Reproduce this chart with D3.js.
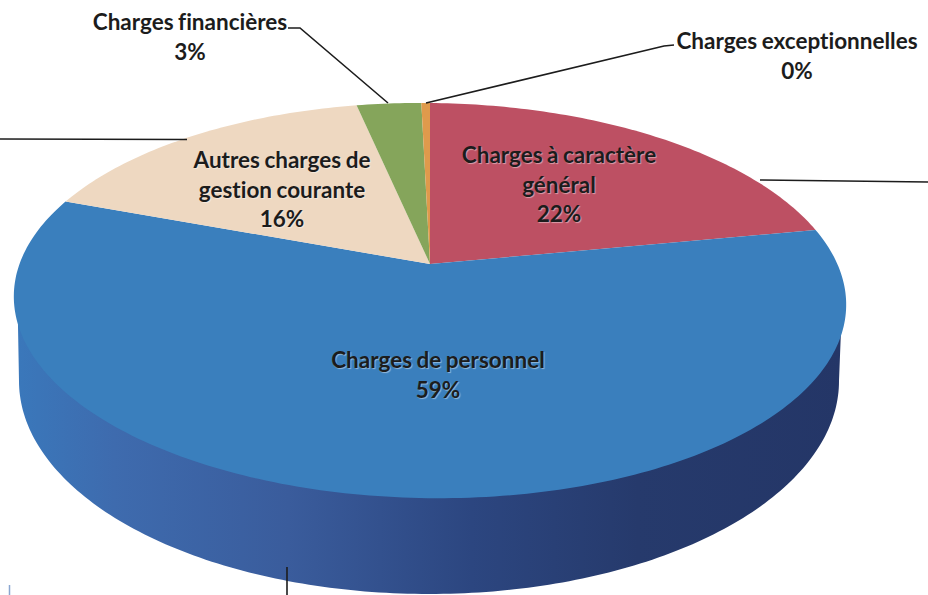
<!DOCTYPE html>
<html>
<head>
<meta charset="utf-8">
<script src="https://cdn.jsdelivr.net/npm/d3@7"></script>
<style>
    html, body { margin: 0; padding: 0; background: #fff; overflow: hidden; }
    text { font-family: Lato, "Open Sans", sans-serif; font-weight: 700; fill: #1c1c1c; font-variant-ligatures: none; word-spacing: -1px; }
    .inner { text-shadow: 1px 1px 1px rgba(255,255,255,0.45); }
</style>
</head>
<body>
<svg id="drawing_region"></svg>
<script>
// values
const categories = ['Charges à caractère général', 'Charges de personnel', 'Autres charges de gestion courante', 'Charges financières', 'Charges exceptionnelles'];
const values = [21.7, 58.6, 16.3, 3.0, 0.4];
const colors = ['#bd5063', '#3a7fbd', '#eed8c1', '#85a55b', '#df9a4c'];

const width = 928, height = 595;

// tilted disc: projection of the unit circle, so the apex sits above the ellipse centre
const top_disc = { cx: 430, cy: 264, a: 409, b: 142, k: -0.185, skew: 4 };
const bottom_ellipse = { cx: 429, cy: 381, rx: 410, ry: 213 };

const project = ( angle, r = 1 ) => {
    const u = r * Math.sin(angle), v = -r * Math.cos(angle);
    const w = 1 + top_disc.k * v;
    return [ top_disc.cx + top_disc.a * u / w, (top_disc.cy + top_disc.b * v + top_disc.skew * u) / w ];
};

const svg = d3.select('#drawing_region')
    .attr('width', width)
    .attr('height', height);

const grad = svg.append('defs').append('linearGradient')
    .attr('id', 'side')
    .attr('gradientUnits', 'userSpaceOnUse')
    .attr('x1', 15).attr('x2', 845).attr('y1', 0).attr('y2', 0);
[[0, '#3a78bb'], [0.12, '#3e6bae'], [0.33, '#3a5c9c'], [0.55, '#2c4680'], [0.75, '#263a6c'], [1, '#243667']]
    .forEach( s => grad.append('stop').attr('offset', s[0]).attr('stop-color', s[1]) );

const line = d3.line();

// side wall: right edge of the top disc, round the lower ellipse, back to the left edge
const wall = d3.range(0, 180.5, 1).map( deg => {
    const t = deg * Math.PI / 180;
    return [ bottom_ellipse.cx + bottom_ellipse.rx * Math.cos(t), bottom_ellipse.cy + bottom_ellipse.ry * Math.sin(t) ];
});
svg.append('path')
    .attr('d', line([ project(Math.PI * 0.52), ...wall, project(Math.PI * 1.48) ]))
    .attr('fill', 'url(#side)');

// top surface
const pie = d3.pie().value( d => d ).sort(null);
const slices = pie(values);

const slice_path = d => {
    const n = Math.max(2, Math.ceil((d.endAngle - d.startAngle) * 60));
    const rim = d3.range(n + 1).map( i => project(d.startAngle + (d.endAngle - d.startAngle) * i / n) );
    return line([ project(0, 0), ...rim ]) + 'Z';
};

svg.selectAll('.slice')
    .data(slices)
    .join('path')
    .attr('class', 'slice')
    .attr('d', slice_path)
    .attr('fill', (d, i) => colors[i]);

// leader lines
const leaders = [
    [[288, 28], [300, 28], [388, 103]],
    [[426, 103], [664, 46], [674, 45]],
    [[0, 139], [187, 139.5]],
    [[760, 180], [928, 182]],
    [[287, 567], [287, 595]]
];
svg.selectAll('.leader')
    .data(leaders)
    .join('path')
    .attr('class', 'leader')
    .attr('d', d => line(d))
    .attr('fill', 'none')
    .attr('stroke', '#1c1c1c')
    .attr('stroke-width', 1.6);

const pct = i => Math.round(values[i]) + '%';

// data labels: lines of text, x centre, first baseline
const labels = [
    { lines: ['Charges à caractère', 'général', pct(0)], x: 559, y: 163, inner: true },
    { lines: [categories[1], pct(1)], x: 438, y: 368, inner: true },
    { lines: ['Autres charges de', 'gestion courante', pct(2)], x: 282, y: 168, inner: true },
    { lines: [categories[3], pct(3)], x: 190, y: 30, inner: false },
    { lines: [categories[4], pct(4)], x: 797, y: 49, inner: false }
];

labels.forEach( l => {
    svg.append('text')
        .attr('class', l.inner ? 'inner' : null)
        .attr('text-anchor', 'middle')
        .attr('font-size', 22.5)
        .selectAll('tspan')
        .data(l.lines)
        .join('tspan')
        .attr('x', l.x)
        .attr('y', (d, i) => l.y + i * 29.5)
        .text( d => d );
});

// speck at the scan's lower left corner
svg.append('line')
    .attr('x1', 9.5).attr('x2', 9.5).attr('y1', 585).attr('y2', 595)
    .attr('stroke', '#8aa6d0').attr('stroke-width', 1.5);
</script>
</body>
</html>
